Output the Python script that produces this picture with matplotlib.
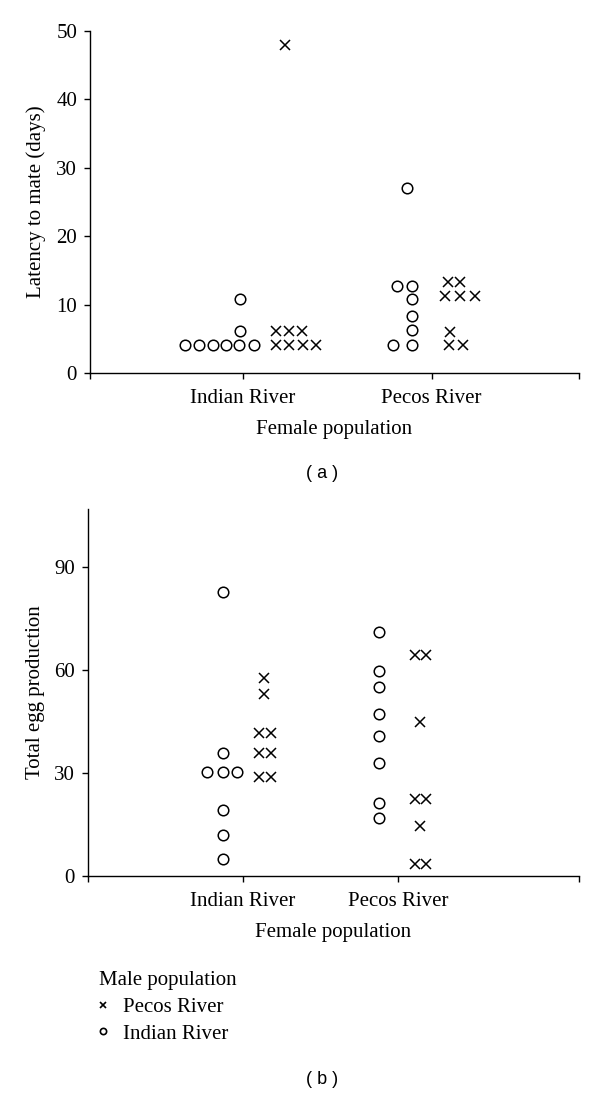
import matplotlib
matplotlib.use("Agg")
import matplotlib.pyplot as plt
from matplotlib.lines import Line2D

plt.rcParams['font.family'] = ['Liberation Serif', 'DejaVu Serif']

female_pops = ['Indian River', 'Pecos River']

# (a) Latency to mate (days); dx = horizontal spread of stacked dots (px)
lat_ir_male_ir = [4.1, 4.1, 4.1, 4.1, 4.1, 4.1, 6.1, 10.8]
lat_ir_male_ir_dx = [-58, -44, -30, -17, -4, 11, -3, -3]
lat_ir_male_pr = [4.1, 4.1, 4.1, 4.1, 6.1, 6.1, 6.1, 48.0]
lat_ir_male_pr_dx = [33, 46, 60, 73, 33, 46, 59, 42]
lat_pr_male_ir = [27.0, 12.7, 12.7, 10.9, 8.3, 6.3, 4.1, 4.1]
lat_pr_male_ir_dx = [-25, -35, -20, -20, -20, -20, -39, -20]
lat_pr_male_pr = [13.3, 13.3, 11.3, 11.3, 11.3, 6.0, 4.1, 4.1]
lat_pr_male_pr_dx = [16, 28, 13, 28, 43, 18, 17, 31]

# (b) Total egg production
egg_ir_male_ir = [82.7, 35.8, 30.3, 30.3, 30.3, 19.2, 11.9, 4.9]
egg_ir_male_ir_dx = [-20, -20, -36, -20, -6, -20, -20, -20]
egg_ir_male_pr = [57.6, 53.0, 41.6, 41.6, 35.8, 35.8, 28.8, 28.8]
egg_ir_male_pr_dx = [21, 21, 16, 28, 16, 28, 16, 28]
egg_pr_male_ir = [71.0, 59.8, 55.0, 47.2, 40.8, 32.9, 21.2, 16.9]
egg_pr_male_ir_dx = [-19, -19, -19, -19, -19, -19, -19, -19]
egg_pr_male_pr = [64.4, 64.4, 44.9, 22.4, 22.4, 14.6, 3.5, 3.5]
egg_pr_male_pr_dx = [17, 28, 22, 17, 28, 22, 17, 28]

DPI = 100
fig = plt.figure(figsize=(6, 10.94), dpi=DPI)

ax_a = fig.add_axes([0.15, 0.659, 0.815, 0.3126])
ax_b = fig.add_axes([0.1467, 0.1993, 0.8183, 0.3354])

circle_kw = dict(marker='o', ms=7.6, mfc='none', mec='black', mew=1.1, ls='none')
cross_kw = dict(marker='x', ms=7.6, mec='black', mew=1.1, ls='none')


def draw_group(ax, cat, vals, dx, style, px_per_unit):
    xs = [cat + d / px_per_unit for d in dx]
    ax.plot(xs, vals, clip_on=False, **style)


def style_axes(ax, xlim, ylim, yticks, ylabel):
    ax.set_xlim(xlim)
    ax.set_ylim(ylim)
    ax.spines['top'].set_visible(False)
    ax.spines['right'].set_visible(False)
    ax.spines['left'].set_linewidth(1.0)
    ax.spines['bottom'].set_linewidth(1.0)
    ax.set_xticks([xlim[0], 0, 1, xlim[1]])
    ax.set_xticklabels([''] + female_pops + [''])
    ax.set_yticks(yticks)
    ax.tick_params(direction='out', length=4.3, width=1.0, labelsize=15, pad=5)
    ax.tick_params(axis='x', pad=7)
    ax.set_xlabel('Female population', fontsize=15, labelpad=9)
    ax.set_ylabel(ylabel, fontsize=15, labelpad=7)


def px_unit(ax, xlim):
    w = fig.get_size_inches()[0] * DPI * ax.get_position().width
    return w / (xlim[1] - xlim[0])


xlim_a = (-0.81, 1.78)
style_axes(ax_a, xlim_a, (0, 50), [0, 10, 20, 30, 40, 50], 'Latency to mate (days)')
pu = px_unit(ax_a, xlim_a)
draw_group(ax_a, 0, lat_ir_male_ir, lat_ir_male_ir_dx, circle_kw, pu)
draw_group(ax_a, 0, lat_ir_male_pr, lat_ir_male_pr_dx, cross_kw, pu)
draw_group(ax_a, 1, lat_pr_male_ir, lat_pr_male_ir_dx, circle_kw, pu)
draw_group(ax_a, 1, lat_pr_male_pr, lat_pr_male_pr_dx, cross_kw, pu)

xlim_b = (-1.0, 2.168)
style_axes(ax_b, xlim_b, (0, 107), [0, 30, 60, 90], 'Total egg production')
pu = px_unit(ax_b, xlim_b)
draw_group(ax_b, 0, egg_ir_male_ir, egg_ir_male_ir_dx, circle_kw, pu)
draw_group(ax_b, 0, egg_ir_male_pr, egg_ir_male_pr_dx, cross_kw, pu)
draw_group(ax_b, 1, egg_pr_male_ir, egg_pr_male_ir_dx, circle_kw, pu)
draw_group(ax_b, 1, egg_pr_male_pr, egg_pr_male_pr_dx, cross_kw, pu)

fig.text(322 / 600, 1 - 473 / 1094, '( a )', family='Liberation Sans', fontsize=13,
         ha='center', va='center')
fig.text(322 / 600, 1 - 1079 / 1094, '( b )', family='Liberation Sans', fontsize=13,
         ha='center', va='center')

# Legend
handles = [
    Line2D([], [], marker='x', ms=4.5, mec='black', mew=1.2, ls='none'),
    Line2D([], [], marker='o', ms=4.5, mfc='none', mec='black', mew=1.2, ls='none'),
]
leg = fig.legend(handles, ['Pecos River', 'Indian River'], loc='upper left',
                 bbox_to_anchor=(99 / 600, 1 - 971 / 1094), frameon=False,
                 title='Male population', title_fontsize=15, fontsize=15,
                 alignment='left', handlelength=0.4, handletextpad=0.75,
                 labelspacing=0.35, borderpad=0, borderaxespad=0)

fig.savefig('out.png', dpi=DPI)
